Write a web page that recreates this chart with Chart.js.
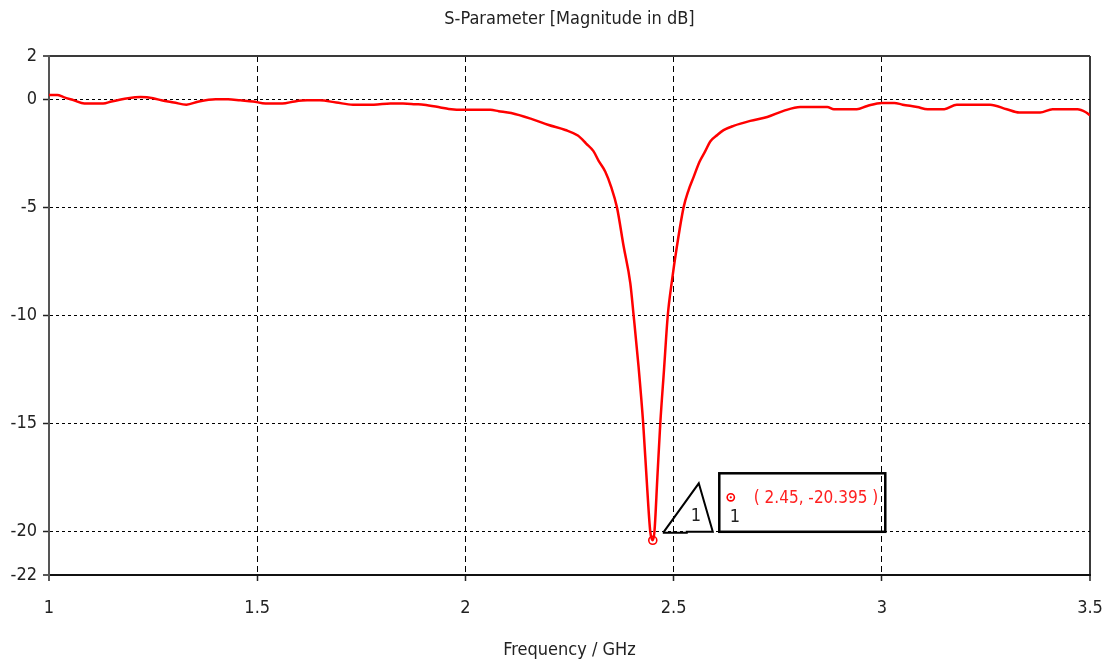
<!DOCTYPE html>
<html>
<head>
<meta charset="utf-8">
<script src="https://cdn.jsdelivr.net/npm/chart.js@4.4.1/dist/chart.umd.min.js"></script>
<style>
  html, body { margin: 0; padding: 0; background: #ffffff; }
  #wrap { width: 1110px; height: 667px; }
</style>
</head>
<body>
<div id="wrap"><canvas id="c" width="1110" height="667"></canvas></div>
<script>
// ---- data ----
const freqGHz = [
  1.000, 1.020, 1.035, 1.060, 1.085, 1.130, 1.150, 1.190, 1.220, 1.250,
  1.270, 1.300, 1.330, 1.360, 1.400, 1.430, 1.460, 1.490, 1.520, 1.560,
  1.590, 1.620, 1.650, 1.690, 1.730, 1.780, 1.820, 1.850, 1.880, 1.900,
  1.940, 1.960, 2.000, 2.060, 2.080, 2.110, 2.160, 2.200, 2.240, 2.270,
  2.290, 2.3075, 2.320, 2.336, 2.350, 2.364, 2.380, 2.396, 2.404, 2.416,
  2.427, 2.436, 2.444, 2.450, 2.454, 2.461, 2.468, 2.477, 2.486, 2.496,
  2.508, 2.524, 2.536, 2.548, 2.562, 2.576, 2.588, 2.605, 2.620, 2.644,
  2.684, 2.725, 2.764, 2.804, 2.869, 2.885, 2.940, 2.965, 3.000, 3.030,
  3.050, 3.085, 3.110, 3.150, 3.180, 3.260, 3.300, 3.330, 3.380, 3.410,
  3.470, 3.490, 3.500
];
const s11dB = [
  0.20, 0.20, 0.10, -0.05, -0.20, -0.20, -0.10, 0.05, 0.10, 0.05,
  -0.05, -0.15, -0.25, -0.10, 0.00, 0.00, -0.05, -0.10, -0.20, -0.20,
  -0.10, -0.05, -0.05, -0.15, -0.25, -0.25, -0.20, -0.20, -0.23, -0.25,
  -0.38, -0.45, -0.49, -0.49, -0.55, -0.64, -0.92, -1.19, -1.42, -1.68,
  -2.05, -2.40, -2.85, -3.35, -4.05, -5.00, -6.80, -8.50, -10.0, -12.4,
  -15.0, -17.8, -20.0, -20.395, -20.0, -17.5, -15.0, -12.5, -10.0, -8.4,
  -6.8, -5.0, -4.2, -3.6, -2.9, -2.4, -1.95, -1.65, -1.43, -1.23,
  -1.00, -0.82, -0.54, -0.36, -0.36, -0.46, -0.46, -0.31, -0.17, -0.17,
  -0.25, -0.36, -0.46, -0.46, -0.25, -0.25, -0.46, -0.61, -0.61, -0.46,
  -0.46, -0.60, -0.74
];
const markerFreq = [2.45];
const markerDb = [-20.395];
const markerLabel = ['1'];
const xTicks = [1, 1.5, 2, 2.5, 3, 3.5];
const yTicks = [2, 0, -5, -10, -15, -20, -22];
const chartTitle = 'S-Parameter [Magnitude in dB]';
const xTitle = 'Frequency / GHz';

// ---- chart ----
const FONT = '"Liberation Sans Narrow", "DejaVu Sans Condensed", "Roboto Condensed", sans-serif';

const curve = freqGHz.map((f, i) => ({ x: f, y: s11dB[i] }));
const markers = markerFreq.map((f, i) => ({ x: f, y: markerDb[i] }));

function isEdge(ctx, n) {
  return ctx.index === 0 || ctx.index === n - 1;
}

const titleAndMarker = {
  id: 'titleAndMarker',
  afterDraw(chart) {
    const ctx = chart.ctx;
    const a = chart.chartArea;
    ctx.save();
    ctx.fillStyle = '#222';
    ctx.font = '18px ' + FONT;
    ctx.textAlign = 'center';
    ctx.textBaseline = 'middle';
    ctx.fillText(chartTitle, (a.left + a.right) / 2, 19);
    ctx.restore();
  },
  afterDatasetsDraw(chart) {
    const ctx = chart.ctx;
    const xs = chart.scales.x, ys = chart.scales.y;
    markerFreq.forEach((f, i) => {
      const mx = xs.getPixelForValue(f);
      const my = ys.getPixelForValue(markerDb[i]);
      ctx.save();
      // triangle
      ctx.strokeStyle = '#000';
      ctx.lineWidth = 2;
      ctx.lineJoin = 'miter';
      ctx.beginPath();
      ctx.moveTo(mx + 11, my - 8.5);
      ctx.lineTo(mx + 46, my - 57);
      ctx.lineTo(mx + 60, my - 8.5);
      ctx.lineTo(mx + 34, my - 8.5);
      ctx.lineTo(mx + 34, my - 7.5);
      ctx.lineTo(mx + 11, my - 7.5);
      ctx.closePath();
      ctx.stroke();
      ctx.fillStyle = '#222';
      ctx.font = '18px ' + FONT;
      ctx.textAlign = 'center';
      ctx.textBaseline = 'middle';
      ctx.fillText(markerLabel[i], mx + 43, my - 24);
      // box
      ctx.lineWidth = 2.5;
      ctx.strokeRect(mx + 66.5, my - 67, 166, 58.5);
      // ring inside the box
      ctx.strokeStyle = '#ff0000';
      ctx.lineWidth = 1.6;
      ctx.beginPath();
      ctx.arc(mx + 78, my - 43, 3.6, 0, Math.PI * 2);
      ctx.stroke();
      ctx.fillStyle = '#ff0000';
      ctx.beginPath();
      ctx.arc(mx + 78, my - 43, 1.1, 0, Math.PI * 2);
      ctx.fill();
      ctx.fillStyle = '#222';
      ctx.fillText(markerLabel[i], mx + 82, my - 23);
      // value text
      ctx.fillStyle = '#ff2020';
      ctx.textAlign = 'left';
      ctx.font = '17px ' + FONT;
      ctx.fillText('( ' + f + ', ' + markerDb[i] + ' )', mx + 101, my - 42);
      ctx.restore();
    });
  }
};

new Chart(document.getElementById('c'), {
  type: 'line',
  data: {
    datasets: [
      {
        label: 'S1,1',
        data: curve,
        borderColor: '#ff0000',
        borderWidth: 2.5,
        pointRadius: 0,
        tension: 0,
        cubicInterpolationMode: 'monotone',
        fill: false
      },
      {
        label: 'marker ring',
        data: markers,
        showLine: false,
        pointRadius: 4,
        pointBorderWidth: 1.6,
        pointBorderColor: '#ff0000',
        pointBackgroundColor: '#ffffff'
      },
      {
        label: 'marker dot',
        data: markers,
        showLine: false,
        pointRadius: 1.2,
        pointBorderWidth: 0,
        pointBackgroundColor: '#ff0000'
      }
    ]
  },
  options: {
    responsive: false,
    animation: false,
    devicePixelRatio: 1,
    layout: { padding: { left: 0, right: 20, top: 56, bottom: 0 } },
    plugins: {
      legend: { display: false },
      tooltip: { enabled: false },
      title: { display: false }
    },
    scales: {
      x: {
        type: 'linear',
        min: 1,
        max: 3.5,
        afterBuildTicks: (s) => { s.ticks = xTicks.map(v => ({ value: v })); },
        afterFit: (s) => { s.height = 92; s.paddingLeft = 0; s.paddingRight = 0; },
        ticks: {
          color: '#222',
          padding: 17,
          maxRotation: 0,
          font: { family: FONT, size: 18 },
          callback: (v) => String(v)
        },
        grid: {
          color: (ctx) => isEdge(ctx, xTicks.length) ? '#3a3a3a' : '#000000',
          lineWidth: (ctx) => isEdge(ctx, xTicks.length) ? 2 : 1,
          drawTicks: true,
          tickLength: 6,
          tickColor: '#222',
          tickWidth: 1.5
        },
        border: {
          display: true,
          color: '#111',
          width: 2,
          dash: (ctx) => (ctx.index === undefined || isEdge(ctx, xTicks.length)) ? [] : [6, 4]
        },
        title: {
          display: true,
          text: xTitle,
          color: '#222',
          font: { family: FONT, size: 18 },
          padding: { top: 0, bottom: 6 }
        }
      },
      y: {
        type: 'linear',
        min: -22,
        max: 2,
        afterBuildTicks: (s) => { s.ticks = yTicks.map(v => ({ value: v })); },
        afterFit: (s) => { s.width = 49; s.paddingTop = 0; s.paddingBottom = 0; },
        ticks: {
          color: '#222',
          padding: 6,
          font: { family: FONT, size: 18 }
        },
        grid: {
          color: (ctx) => isEdge(ctx, yTicks.length) ? '#3a3a3a' : '#000000',
          lineWidth: (ctx) => isEdge(ctx, yTicks.length) ? 2 : 1,
          drawTicks: true,
          tickLength: 6,
          tickColor: '#222',
          tickWidth: 1.5
        },
        border: {
          display: true,
          color: '#555',
          width: 2,
          dash: (ctx) => (ctx.index === undefined || isEdge(ctx, yTicks.length)) ? [] : [3, 3]
        }
      }
    }
  },
  plugins: [titleAndMarker]
});
</script>
</body>
</html>
